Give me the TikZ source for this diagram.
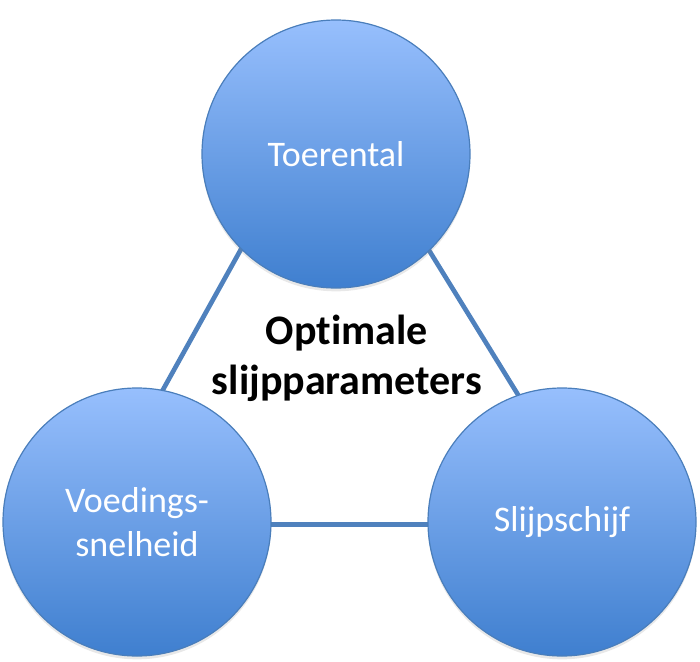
\documentclass[tikz,border=0pt]{standalone}
\usepackage{fontspec}
\setmainfont{Carlito}[Ligatures=NoCommon]
\usepackage{tikz}
\usetikzlibrary{shadows, backgrounds}

\definecolor{randblauw}{RGB}{74,126,187}
\definecolor{lijnblauw}{RGB}{79,129,189}
\definecolor{lichtblauw}{RGB}{151,191,253}
\definecolor{donkerblauw}{RGB}{63,127,207}

\begin{document}
\begin{tikzpicture}[x=0.75pt, y=-0.75pt,
        bol/.style={circle, draw=randblauw, line width=0.9pt, inner sep=0pt, outer sep=0pt,
            minimum size=201pt, top color=lichtblauw, bottom color=donkerblauw,
            text=white, align=center, font=\fontsize{27}{33.5}\selectfont,
            drop shadow={opacity=0.18, shadow xshift=0pt, shadow yshift=-2.5pt}},
        verbinding/.style={lijnblauw, line width=3.5pt, shorten <=-4pt, shorten >=-4pt}]
        \useasboundingbox (0, 0) rectangle (700, 661);
        \node[bol] (toer) at (336, 154) {Toerental};
        \node[bol] (voed) at (137, 522) {Voedings-\\snelheid};
        \node[bol] (slijp) at (562, 522) {Slijpschijf};
        \node[align=center, font=\bfseries\fontsize{31.5}{37.5}\selectfont] (doel) at (347, 358) {Optimale\\slijpparameters};
        % triangle behind the circles
        \begin{scope}[on background layer]
            \draw[verbinding] (toer.225) -- (voed.79);
            \draw[verbinding] (toer.314) -- (slijp.109);
            \draw[verbinding] (voed.-1) -- (slijp.181);
        \end{scope}
\end{tikzpicture}
\end{document}
